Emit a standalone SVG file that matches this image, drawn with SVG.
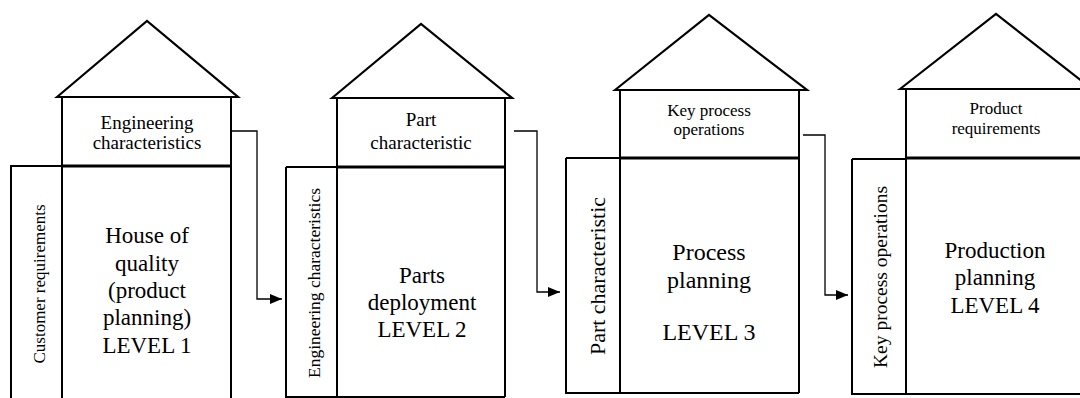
<svg xmlns="http://www.w3.org/2000/svg" width="1080" height="398" viewBox="0 0 1080 398">
<defs>
<marker id="arr" viewBox="0 0 12 10" refX="12" refY="5" markerWidth="12" markerHeight="10" markerUnits="userSpaceOnUse" orient="auto">
<path d="M0,0 L12,5 L0,10 Z" fill="#000"/>
</marker>
</defs>
<rect width="1080" height="398" fill="#fff"/>

<g id="house1">
<polygon fill="none" stroke="#000" stroke-width="2.2" points="57,97 147,21 238,97"/>
<path fill="none" stroke="#000" stroke-width="2" d="M62,97 V400 M231,97 V400 M11,400 V166 H62"/>
<line stroke="#000" stroke-width="3.2" x1="62" y1="166" x2="231" y2="166"/>
<text font-family="Liberation Serif" text-anchor="middle" font-size="19" x="147" y="129">Engineering</text>
<text font-family="Liberation Serif" text-anchor="middle" font-size="19" x="147" y="149">characteristics</text>
<text font-family="Liberation Serif" text-anchor="middle" font-size="23" x="147" y="243">House of</text>
<text font-family="Liberation Serif" text-anchor="middle" font-size="23" x="147" y="271">quality</text>
<text font-family="Liberation Serif" text-anchor="middle" font-size="23" x="147" y="298">(product</text>
<text font-family="Liberation Serif" text-anchor="middle" font-size="23" x="147" y="325">planning)</text>
<text font-family="Liberation Serif" text-anchor="middle" font-size="23" x="147" y="353">LEVEL 1</text>
<text font-family="Liberation Serif" text-anchor="middle" font-size="17" transform="translate(45,284) rotate(-90)">Customer requirements</text>
</g>

<g id="house2">
<polygon fill="none" stroke="#000" stroke-width="2.2" points="332,98 421,24 512,98"/>
<path fill="none" stroke="#000" stroke-width="2" d="M337,98 V397 M505,98 V397 M286,167 V397 H505 M286,167 H337"/>
<line stroke="#000" stroke-width="3.2" x1="337" y1="167" x2="505" y2="167"/>
<text font-family="Liberation Serif" text-anchor="middle" font-size="19" x="421" y="126">Part</text>
<text font-family="Liberation Serif" text-anchor="middle" font-size="19" x="421" y="149">characteristic</text>
<text font-family="Liberation Serif" text-anchor="middle" font-size="23" x="422" y="283">Parts</text>
<text font-family="Liberation Serif" text-anchor="middle" font-size="23" x="422" y="310">deployment</text>
<text font-family="Liberation Serif" text-anchor="middle" font-size="23" x="422" y="337">LEVEL 2</text>
<text font-family="Liberation Serif" text-anchor="middle" font-size="17.5" transform="translate(320,283) rotate(-90)">Engineering characteristics</text>
</g>

<g id="house3">
<polygon fill="none" stroke="#000" stroke-width="2.2" points="615,90 709,15 807,90"/>
<path fill="none" stroke="#000" stroke-width="2" d="M620,90 V393 M799,90 V393 M566,158 V393 H799 M566,158 H620"/>
<line stroke="#000" stroke-width="3.2" x1="620" y1="158" x2="799" y2="158"/>
<text font-family="Liberation Serif" text-anchor="middle" font-size="17" x="709" y="116">Key process</text>
<text font-family="Liberation Serif" text-anchor="middle" font-size="17" x="709" y="135">operations</text>
<text font-family="Liberation Serif" text-anchor="middle" font-size="24" x="709" y="260">Process</text>
<text font-family="Liberation Serif" text-anchor="middle" font-size="24" x="709" y="288">planning</text>
<text font-family="Liberation Serif" text-anchor="middle" font-size="24" x="709" y="340">LEVEL 3</text>
<text font-family="Liberation Serif" text-anchor="middle" font-size="22" transform="translate(605,276) rotate(-90)">Part characteristic</text>
</g>

<g id="house4">
<polygon fill="none" stroke="#000" stroke-width="2.2" points="900,89 996,14 1092,89"/>
<path fill="none" stroke="#000" stroke-width="2" d="M906,89 V394 M852,159 V394 H1090 M852,159 H906"/>
<line stroke="#000" stroke-width="3.2" x1="906" y1="158" x2="1090" y2="158"/>
<text font-family="Liberation Serif" text-anchor="middle" font-size="17" x="996" y="114">Product</text>
<text font-family="Liberation Serif" text-anchor="middle" font-size="17" x="996" y="134">requirements</text>
<text font-family="Liberation Serif" text-anchor="middle" font-size="23" x="995" y="258">Production</text>
<text font-family="Liberation Serif" text-anchor="middle" font-size="23" x="995" y="285">planning</text>
<text font-family="Liberation Serif" text-anchor="middle" font-size="23" x="995" y="313">LEVEL 4</text>
<text font-family="Liberation Serif" text-anchor="middle" font-size="19.5" transform="translate(887,277) rotate(-90)">Key process operations</text>
</g>

<g id="connectors" fill="none" stroke="#000" stroke-width="1.3">
<path d="M231,131 H257 V299 H282" marker-end="url(#arr)"/>
<path d="M514,131 H537 V292 H560" marker-end="url(#arr)"/>
<path d="M803,135 H825 V295 H848" marker-end="url(#arr)"/>
</g>
</svg>
